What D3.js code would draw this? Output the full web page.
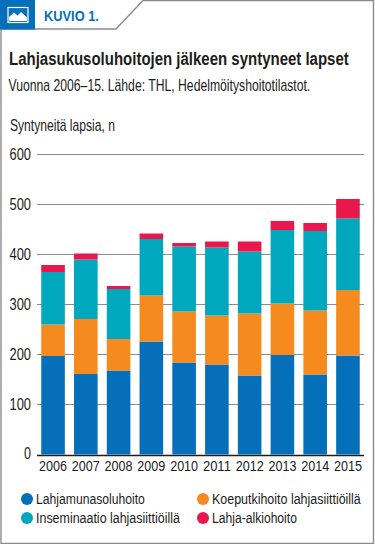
<!DOCTYPE html>
<html>
<head>
<meta charset="utf-8">
<script src="https://d3js.org/d3.v7.min.js"></script>
<style>
  html, body { margin: 0; padding: 0; background: #fff; }
  svg { display: block; }
  text { font-family: "Liberation Sans", sans-serif; fill: #1d1d1b; }
</style>
</head>
<body>
<div id="chart"></div>
<script>
// Values
const years = ["2006", "2007", "2008", "2009", "2010", "2011", "2012", "2013", "2014", "2015"];
const lahjamunasolu = [197, 161, 168, 226, 184, 180, 158, 199, 160, 198];
const koeputki = [63, 110, 63, 92, 102, 98, 124, 103, 128, 131];
const inseminaatio = [105, 119, 100, 113, 130, 136, 124, 147, 159, 143];
const lahjaAlkio = [14, 12, 6, 11, 7, 12, 20, 18, 16, 39];
const yTicks = [0, 100, 200, 300, 400, 500, 600];

const seriesNames = ["Lahjamunasoluhoito", "Koeputkihoito lahjasiittiöillä", "Inseminaatio lahjasiittiöillä", "Lahja-alkiohoito"];
const seriesColors = ["#0570b9", "#f58a1f", "#00a8bd", "#e9174b"];

const width = 375;
const height = 544;

// The original type is condensed, so put each text at tx,ty and squeeze it to its measured width
function place(selection, tx, ty, w) {
    selection.each(function (d, i) {
        const k = w(d, i) / this.getComputedTextLength();
        d3.select(this).attr("transform", `translate(${tx(d, i)},${ty(d, i)}) scale(${k},1)`);
    });
}

const svg = d3.select("#chart")
    .append("svg")
    .attr("width", width)
    .attr("height", height);

// Frame with the cut corner
svg.append("path")
    .attr("d", "M1,29V543.5H373.5V0.5H143L116,29H1")
    .attr("fill", "none")
    .attr("stroke", "#8c8c8c")
    .attr("stroke-width", 1.4);

// Header box and icon
svg.append("rect")
    .attr("width", 35)
    .attr("height", 29.5)
    .attr("fill", "#0570b9");
svg.append("rect")
    .attr("x", 8)
    .attr("y", 7.5)
    .attr("width", 20)
    .attr("height", 15)
    .attr("fill", "none")
    .attr("stroke", "#fff")
    .attr("stroke-width", 1.2);
svg.append("path")
    .attr("d", "M9,21V17L14,12.5L17.5,15.5L21,12L27,17.5V21Z")
    .attr("fill", "#fff");

svg.append("text")
    .style("font-size", "15.5px")
    .style("font-weight", "bold")
    .style("fill", "#0570b9")
    .text("KUVIO 1.")
    .call(place, () => 44, () => 20.5, () => 55);

svg.append("text")
    .style("font-size", "18.5px")
    .style("font-weight", "bold")
    .text("Lahjasukusoluhoitojen jälkeen syntyneet lapset")
    .call(place, () => 9, () => 65, () => 340);

svg.append("text")
    .style("font-size", "16px")
    .text("Vuonna 2006–15. Lähde: THL, Hedelmöityshoitotilastot.")
    .call(place, () => 8.5, () => 91, () => 302);

svg.append("text")
    .style("font-size", "16px")
    .text("Syntyneitä lapsia, n")
    .call(place, () => 10, () => 131, () => 105);

// Scales
const x = d3.scaleBand()
    .domain(years)
    .range([37, 364])
    .paddingInner(0.28)
    .paddingOuter(0.13);

const y = d3.scaleLinear()
    .domain([0, 600])
    .range([454.5, 154.5]);

// Gridlines
svg.append("g")
    .selectAll("line")
    .data(yTicks.filter(d => d > 0))
    .enter().append("line")
    .attr("x1", 37)
    .attr("x2", 364)
    .attr("y1", d => y(d))
    .attr("y2", d => y(d))
    .attr("stroke", "#8c8c8c")
    .attr("stroke-width", 1);

// Stacked bars
const rows = years.map((year, i) => ({
    year: year,
    s0: lahjamunasolu[i],
    s1: koeputki[i],
    s2: inseminaatio[i],
    s3: lahjaAlkio[i]
}));
const stacked = d3.stack().keys(["s0", "s1", "s2", "s3"])(rows);

svg.append("g")
    .selectAll("g")
    .data(stacked)
    .enter().append("g")
    .attr("fill", (d, i) => seriesColors[i])
    .selectAll("rect")
    .data(d => d)
    .enter().append("rect")
    .attr("x", d => x(d.data.year))
    .attr("y", d => y(d[1]))
    .attr("width", x.bandwidth())
    .attr("height", d => y(d[0]) - y(d[1]));

// Y axis labels
svg.append("g")
    .selectAll("text")
    .data(yTicks)
    .enter().append("text")
    .attr("text-anchor", "end")
    .style("font-size", "16.5px")
    .text(d => d)
    .call(place, () => 31, d => d === 0 ? 458.5 : y(d) + 5.5, d => d === 0 ? 7 : 21.5);

// Baseline and year labels
svg.append("line")
    .attr("x1", 37)
    .attr("x2", 364)
    .attr("y1", 455.5)
    .attr("y2", 455.5)
    .attr("stroke", "#1d1d1b")
    .attr("stroke-width", 1.5);

svg.append("g")
    .selectAll("text")
    .data(years)
    .enter().append("text")
    .attr("text-anchor", "middle")
    .style("font-size", "15.5px")
    .text(d => d)
    .call(place, d => x(d) + x.bandwidth() / 2, () => 470.5, () => 28);

// Legend, filled by columns: left column first
const legendX = [27, 203];
const legendY = [499, 518];
const legendCell = [[0, 0], [1, 0], [0, 1], [1, 1]];
const legendWidths = [109, 149, 144, 85];

const legend = svg.append("g")
    .selectAll("g")
    .data(seriesNames)
    .enter().append("g")
    .attr("transform", (d, i) => `translate(${legendX[legendCell[i][0]]},${legendY[legendCell[i][1]]})`);

legend.append("circle")
    .attr("r", 6)
    .attr("fill", (d, i) => seriesColors[i]);

legend.append("text")
    .style("font-size", "15.5px")
    .text(d => d)
    .call(place, () => 9, () => 5, (d, i) => legendWidths[i]);
</script>
</body>
</html>
